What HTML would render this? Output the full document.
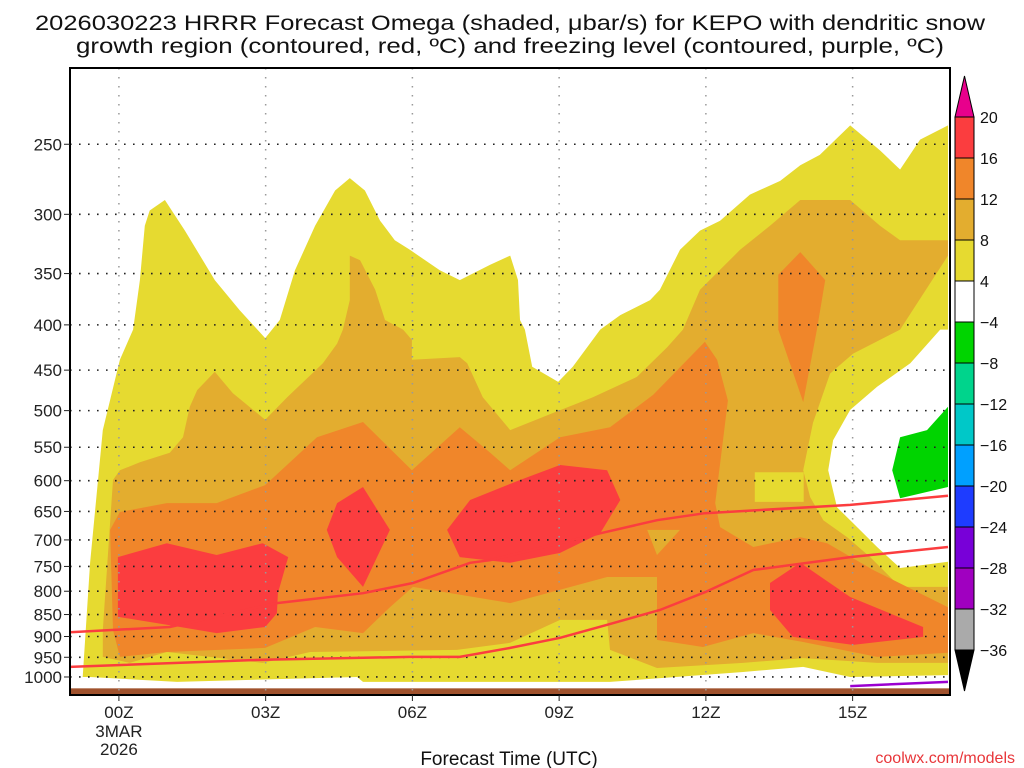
<!DOCTYPE html>
<html><head><meta charset="utf-8"><style>
html,body{margin:0;padding:0;background:#fff;}
svg{display:block;font-family:"Liberation Sans",sans-serif;}
</style></head><body>
<svg id="chart" width="1024" height="768" viewBox="0 0 1024 768" xmlns="http://www.w3.org/2000/svg">
<text x="510" y="30" text-anchor="middle" font-size="21" fill="#111" textLength="950" lengthAdjust="spacingAndGlyphs">2026030223 HRRR Forecast Omega (shaded, μbar/s) for KEPO with dendritic snow</text>
<text x="510" y="53" text-anchor="middle" font-size="21" fill="#111" textLength="868" lengthAdjust="spacingAndGlyphs">growth region (contoured, red, ºC) and freezing level (contoured, purple, ºC)</text>
<g id="plot"></g>
<g id="cbar"></g>
<text x="509" y="765" text-anchor="middle" font-size="19" fill="#111">Forecast Time (UTC)</text>
<text x="1015" y="763" text-anchor="end" font-size="16" fill="#e8363a">coolwx.com/models</text>
</svg>
<script>
// ---- data ----
const pressureTicks = [250,300,350,400,450,500,550,600,650,700,750,800,850,900,950,1000];
const hourTicks = [0,3,6,9,12,15];
const hourLabels = ["00Z","03Z","06Z","09Z","12Z","15Z"];
const cbarLevels = [20,16,12,8,4,-4,-8,-12,-16,-20,-24,-28,-32,-36];
const cbarColors = ["#fb3d3f","#f0862a","#e3ad2f","#e6da30","#ffffff","#00d400","#00d48c","#00c8c8","#00a0ff","#1e3cff","#7800d8","#a000c0","#aaaaaa"];
// omega shaded regions: [hour, hPa]
const yellow4 = [[-0.74,1000],[-0.59,743],[-0.33,526],[0.02,438],[0.29,405],[0.43,356],[0.53,309],[0.63,297],[0.94,289],[1.35,313],[1.96,356],[2.47,385],[2.99,414],[3.29,395],[3.6,347],[4.01,309],[4.42,282],[4.72,273],[5.03,282],[5.34,305],[5.64,321],[5.95,329],[6.56,347],[6.97,356],[7.59,342],[8.0,334],[8.16,356],[8.2,395],[8.3,405],[8.45,446],[8.98,464],[9.28,446],[9.84,405],[10.25,390],[10.86,375],[11.06,365],[11.47,329],[11.88,313],[12.29,305],[12.9,285],[13.52,275],[13.93,264],[14.33,257],[14.95,238],[15.56,254],[15.97,267],[16.38,247],[16.95,238],[16.95,405],[16.79,405],[16.18,442],[15.5,470],[14.95,499],[14.6,540],[14.5,584],[14.68,643],[15.01,670],[15.5,713],[15.97,753],[16.95,741],[16.95,995],[14.95,1000],[13.99,974],[12.76,987],[10.04,1013],[8.0,1013],[4.99,1013],[4.87,1000],[1.19,1013],[-0.59,1000]];
const lightOrange8 = [[-0.33,885],[-0.12,599],[0.02,584],[0.43,572],[1.04,558],[1.31,536],[1.45,495],[1.6,474],[1.96,452],[2.33,478],[2.99,512],[3.44,483],[4.17,442],[4.46,420],[4.58,405],[4.72,375],[4.72,334],[4.93,338],[5.24,365],[5.44,395],[5.81,405],[5.99,416],[5.99,438],[6.97,435],[7.12,442],[7.44,483],[8.0,526],[8.88,503],[9.69,483],[10.59,458],[11.21,424],[11.53,405],[11.88,365],[12.7,329],[13.31,309],[13.93,289],[14.95,289],[15.56,309],[15.97,321],[16.95,321],[16.95,334],[15.97,405],[15.01,431],[14.54,454],[14.19,516],[13.99,584],[14.13,626],[14.4,665],[14.89,695],[15.36,732],[15.97,791],[16.95,791],[16.95,964],[15.5,964],[13.99,952],[12.76,964],[11.0,977],[10.04,932],[9.98,862],[9.02,862],[8.0,915],[6.91,932],[3.91,937],[2.94,964],[0.98,937],[0.22,964],[-0.33,949]];
const yellowPatch = [[13.0,587],[14.0,587],[14.0,634],[13.0,634]];
const orange12 = [[-0.12,885],[-0.18,682],[0.02,651],[0.98,636],[2.0,636],[2.99,607],[4.05,536],[4.99,515],[5.99,584],[6.97,522],[7.59,558],[8.0,584],[9.02,536],[10.04,522],[10.92,480],[11.98,418],[12.23,438],[12.45,487],[12.35,540],[12.19,636],[12.29,677],[12.97,713],[13.93,695],[14.48,706],[15.42,757],[16.95,834],[16.95,939],[15.5,949],[13.99,913],[12.97,892],[11.94,925],[11.0,908],[11.0,771],[9.98,771],[9.02,797],[8.0,825],[6.01,791],[5.54,834],[4.99,892],[4.01,878],[2.99,927],[0.98,937],[0.02,949]];
const orangeTop = [[13.48,405],[13.48,351],[13.93,331],[14.44,356],[14.27,405],[13.99,489]];
const lightOrangeTri = [[10.8,682],[11.47,682],[11.0,728]];
const red16a = [[-0.02,732],[0.98,706],[2.0,728],[2.94,706],[3.46,732],[3.25,804],[3.23,847],[2.99,878],[2.0,892],[0.98,873],[-0.02,855]];
const red16b = [[4.99,610],[5.54,682],[4.99,791],[4.46,732],[4.25,682],[4.46,636]];
const red16c = [[6.71,682],[6.97,732],[7.53,738],[8.0,743],[9.02,724],[9.84,688],[10.25,631],[9.98,584],[9.02,576],[8.2,599],[7.18,631]];
const red16d = [[13.31,783],[13.93,743],[14.95,812],[16.44,878],[16.44,901],[15.01,920],[13.78,901],[13.31,840]];
const green4 = [[16.95,495],[16.52,526],[15.97,536],[15.81,584],[15.97,628],[16.95,610]];
// dendritic growth contours (red)
const dgzTop = [[-1.0,890],[1.04,878],[3.23,825],[4.99,804],[6.01,783],[7.18,743],[7.59,738],[9.84,688],[11.0,665],[11.98,653],[14.95,639],[16.95,624]];
const dgzBottom = [[-1.0,974],[2.94,956],[5.95,949],[6.97,949],[8.0,927],[9.02,903],[9.98,873],[11.06,840],[11.98,802],[12.97,757],[14.95,732],[16.95,713]];
const freezing = [[14.95,1024],[16.95,1013]];

// ---- axes ----
const L=70,R=950,T=68,B=695, H0=-1.0, H1=16.95+(2/48.9), P0=205, P1=1048;
function xs(h){return L+(h-H0)/(H1-H0)*(R-L);}
function ys(p){return T+Math.log(p/P0)/Math.log(P1/P0)*(B-T);}
const NS="http://www.w3.org/2000/svg";
const plot=document.getElementById('plot');
function mk(tag,attrs,parent){const e=document.createElementNS(NS,tag);for(const k in attrs)e.setAttribute(k,attrs[k]);(parent||plot).appendChild(e);return e;}
function pts(a){return a.map(d=>xs(d[0]).toFixed(1)+','+ys(d[1]).toFixed(1)).join(' ');}
const clip=mk('clipPath',{id:'pc'});mk('rect',{x:L,y:T,width:R-L,height:B-T},clip);
const g=mk('g',{'clip-path':'url(#pc)'});
const regions=[[yellow4,'#e6da30','region-omega-4'],[lightOrange8,'#e3ad2f','region-omega-8'],[yellowPatch,'#e6da30','region-omega-4-patch'],[orange12,'#f0862a','region-omega-12'],[orangeTop,'#f0862a','region-omega-12-upper'],[lightOrangeTri,'#e3ad2f','region-omega-8-pocket'],[red16a,'#fb3d3f','region-omega-16-a'],[red16b,'#fb3d3f','region-omega-16-b'],[red16c,'#fb3d3f','region-omega-16-c'],[red16d,'#fb3d3f','region-omega-16-d'],[green4,'#00d400','region-omega-neg4']];
regions.forEach(r=>{const e=mk('polygon',{points:pts(r[0]),fill:r[1]},g);

});
// ground
const gr=mk('rect',{x:L,y:ys(1030),width:R-L,height:B-ys(1030),fill:'#a0522d'},g);


// grid
pressureTicks.forEach(p=>{const l=mk('line',{x1:L,x2:R,y1:ys(p),y2:ys(p),stroke:'#222','stroke-width':1.6,'stroke-dasharray':'1.6 7.4'},g);

});
hourTicks.forEach(h=>{const l=mk('line',{x1:xs(h),x2:xs(h),y1:T,y2:B,stroke:'#999','stroke-width':1.5,'stroke-dasharray':'1.5 7.5'},g);

});
// contours
[[dgzTop,'dgz-contour-top','#fb3d3f'],[dgzBottom,'dgz-contour-bottom','#fb3d3f'],[freezing,'freezing-level-contour','#9a00d0']].forEach(c=>{const e=mk('polyline',{points:pts(c[0]),fill:'none',stroke:c[2],'stroke-width':2.5},g);

});
// frame
const fr=mk('rect',{x:L,y:T,width:R-L,height:B-T,fill:'none',stroke:'#000','stroke-width':2});


pressureTicks.forEach(p=>{const t=mk('text',{x:L-8,y:ys(p)+6,'text-anchor':'end','font-size':17,fill:'#222'});t.textContent=String(p);


const k=mk('line',{x1:L-6,x2:L,y1:ys(p),y2:ys(p),stroke:'#222','stroke-width':1});

});
hourTicks.forEach((h,i)=>{const t=mk('text',{x:xs(h),y:718,'text-anchor':'middle','font-size':17,fill:'#222'});t.textContent=hourLabels[i];


const k=mk('line',{x1:xs(h),x2:xs(h),y1:B,y2:B+6,stroke:'#222','stroke-width':1});

});
[['3MAR',737],['2026',755]].forEach(d=>{const t=mk('text',{x:xs(0),y:d[1],'text-anchor':'middle','font-size':17,fill:'#222'});t.textContent=d[0];

});
// colorbar
const cb=document.getElementById('cbar');
const CX=955,CW=19,CT=117,CS=(650-117)/(cbarLevels.length-1);
function cy(i){return CT+i*CS;}
cbarColors.forEach((c,i)=>{const r=mk('rect',{x:CX,y:cy(i),width:CW,height:CS,fill:c,stroke:'#000','stroke-width':1},cb);

});
const ta=mk('polygon',{points:`${CX},${CT} ${CX+CW},${CT} ${CX+CW/2},${CT-41}`,fill:'#e8008c',stroke:'#000','stroke-width':1},cb);


const ba=mk('polygon',{points:`${CX},${cy(cbarLevels.length-1)} ${CX+CW},${cy(cbarLevels.length-1)} ${CX+CW/2},${cy(cbarLevels.length-1)+41}`,fill:'#000',stroke:'#000','stroke-width':1},cb);


cbarLevels.forEach((v,i)=>{const t=mk('text',{x:CX+CW+6,y:cy(i)+6,'font-size':16,fill:'#111'},cb);t.textContent=(v<0?'\u2212'+(-v):String(v));

});
</script>
</body></html>
